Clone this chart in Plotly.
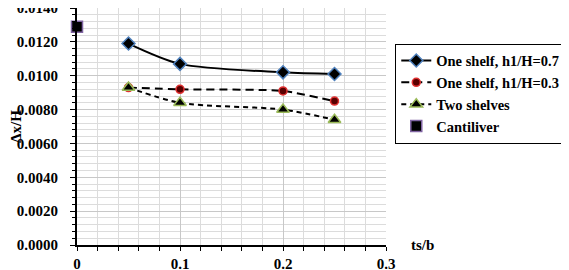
import plotly.graph_objects as go

x_vals = [0.05, 0.1, 0.2, 0.25]
one_shelf_07 = [0.0119, 0.0107, 0.0102, 0.0101]
one_shelf_03 = [0.0093, 0.0092, 0.0091, 0.0085]
two_shelves = [0.0093, 0.0084, 0.0080, 0.0074]
cantilever_x = [0.0]
cantilever_y = [0.0129]

names = ["One shelf, h1/H=0.7", "One shelf, h1/H=0.3", "Two shelves", "Cantiliver"]
y_ticks = [0.0, 0.002, 0.004, 0.006, 0.008, 0.010, 0.012, 0.014]
x_ticks = [0, 0.1, 0.2, 0.3]
x_tick_text = ["0", "0.1", "0.2", "0.3"]

FONT = "Liberation Serif"

fig = go.Figure()
fig.add_trace(go.Scatter(
    x=x_vals, y=one_shelf_07, name=names[0], mode="lines+markers", cliponaxis=False,
    line=dict(color="black", width=2, shape="spline", smoothing=0.8),
    marker=dict(symbol="diamond", size=10, color="black", line=dict(color="#4F81BD", width=1.5))))
fig.add_trace(go.Scatter(
    x=x_vals, y=one_shelf_03, name=names[1], mode="lines+markers", cliponaxis=False,
    line=dict(color="black", width=2, dash="8px,5px", shape="spline", smoothing=0.6),
    marker=dict(symbol="circle", size=8, color="#5a0000", line=dict(color="#E03030", width=1.5))))
fig.add_trace(go.Scatter(
    x=x_vals, y=two_shelves, name=names[2], mode="lines+markers", cliponaxis=False,
    line=dict(color="black", width=2, dash="5px,4px", shape="spline", smoothing=0.8),
    marker=dict(symbol="triangle-up", size=11, color="black", line=dict(color="#9BBB59", width=1.5))))
fig.add_trace(go.Scatter(
    x=cantilever_x, y=cantilever_y, name=names[3], mode="markers", cliponaxis=False,
    marker=dict(symbol="square", size=11, color="black", line=dict(color="#8064A2", width=1.5))))

fig.update_layout(
    template="none",
    width=561, height=262,
    margin=dict(l=69, r=183, t=0, b=25, autoexpand=False),
    paper_bgcolor="white", plot_bgcolor="white",
    font=dict(family=FONT, color="black", size=14),
    legend=dict(x=1.03, y=0.85, xanchor="left", yanchor="top",
                bordercolor="black", borderwidth=1, bgcolor="white",
                font=dict(family=FONT, size=14.5, color="black", weight="bold"),
                tracegroupgap=0, itemwidth=30),
    showlegend=True,
)
fig.update_xaxes(
    range=[0, 0.3], tickvals=x_ticks, ticktext=x_tick_text, automargin=False,
    showline=True, linecolor="black", linewidth=2,
    ticks="outside", ticklen=4, tickcolor="black", tickwidth=1,
    showgrid=True, gridcolor="#c8c8c8", gridwidth=1,
    minor=dict(dtick=0.02, showgrid=True, gridcolor="#dcdcdc", ticks="outside", ticklen=4, tickcolor="black"),
    tickfont=dict(family=FONT, size=15, color="black", weight="bold"),
    ticklabelstandoff=0, zeroline=False, ticklabeloverflow="allow",
)
fig.update_yaxes(
    range=[0, 0.014001], tickvals=y_ticks, tickformat=".4f", automargin=False,
    showline=True, linecolor="black", linewidth=2,
    ticks="outside", ticklen=5, tickcolor="black", tickwidth=1,
    showgrid=True, gridcolor="#c8c8c8", gridwidth=1,
    minor=dict(dtick=0.0004, showgrid=True, gridcolor="#dcdcdc", ticks="outside", ticklen=3, tickcolor="black"),
    tickfont=dict(family=FONT, size=15, color="black", weight="bold"),
    ticklabelstandoff=9,
    title=dict(text="<b>Δx/H</b>", font=dict(family=FONT, size=15, color="black"), standoff=2),
    zeroline=False, ticklabeloverflow="allow",
)
fig.add_annotation(x=1.074, y=0.0, xref="paper", yref="paper", text="<b>ts/b</b>",
                   showarrow=False, xanchor="left", yanchor="middle",
                   font=dict(family=FONT, size=15, color="black"))
fig.write_html("out.html")
